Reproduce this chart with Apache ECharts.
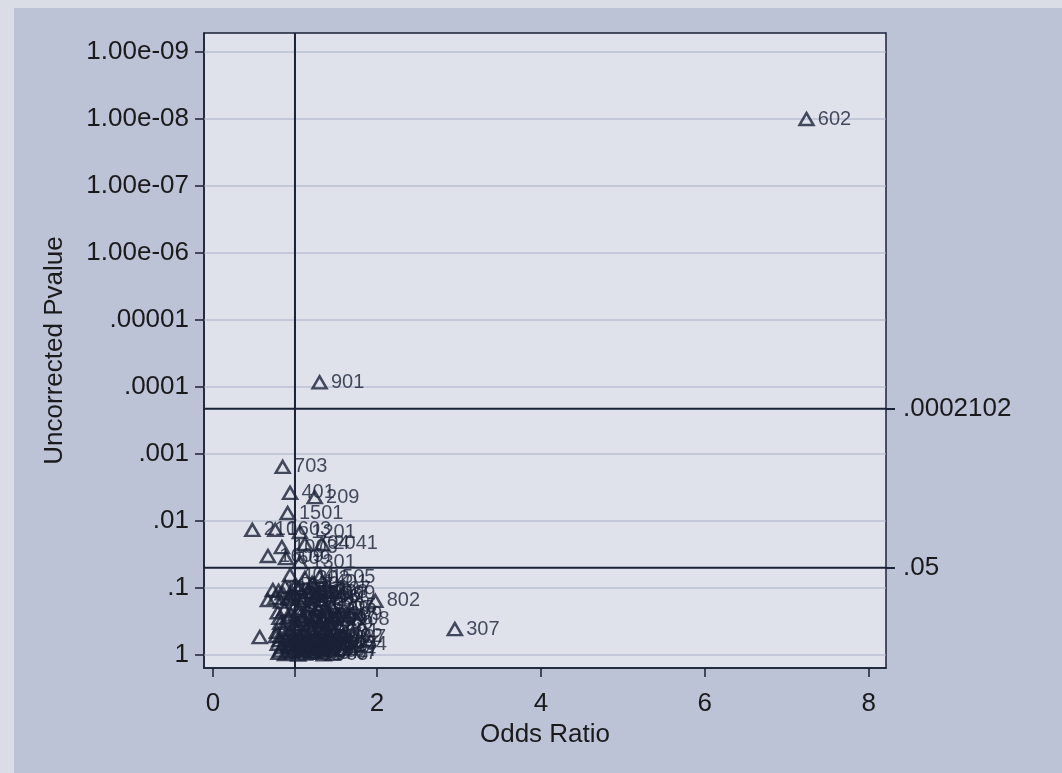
<!DOCTYPE html>
<html>
<head>
<meta charset="utf-8">
<title>Odds ratio vs uncorrected p-value</title>
<script src="https://cdn.jsdelivr.net/npm/echarts@6/dist/echarts.min.js"></script>
<style>
html, body { margin: 0; padding: 0; background: #dadde6; }
#chart { width: 1062px; height: 773px; }
</style>
</head>
<body>
<div id="chart"></div>
<script>
// axis ticks
var xTicks = [0, 2, 4, 6, 8];
var yTickValues = [1e-9, 1e-8, 1e-7, 1e-6, 1e-5, 1e-4, 1e-3, 0.01, 0.1, 1];
var yTickLabels = ['1.00e-09', '1.00e-08', '1.00e-07', '1.00e-06', '.00001', '.0001', '.001', '.01', '.1', '1'];
var refP = [0.0002102, 0.05];
var refPLabels = ['.0002102', '.05'];
var refOR = 1;

// points (odds ratio, p value, id)
var oddsRatio = [
    7.24, 1.30, 0.85, 0.94, 1.24, 0.91, 0.48, 0.76, 1.06, 0.84, 1.12, 1.33, 0.67, 0.89,
    1.06, 0.94, 1.12, 1.30, 1.00, 1.21, 0.73, 0.67, 0.57, 1.98, 2.95, 1.28, 1.33, 1.43,
    0.80, 0.88, 0.97, 1.05, 1.16, 1.26, 1.38,
    0.83, 0.92, 1.01, 1.09, 1.19, 1.31, 1.45,
    0.79, 0.87, 0.95, 1.03, 1.13, 1.22, 1.36, 1.52,
    0.82, 0.90, 0.99, 1.07, 1.17, 1.29, 1.41,
    0.78, 0.86, 0.94, 1.02, 1.11, 1.20, 1.33, 1.48,
    0.81, 0.89, 0.98, 1.06, 1.15, 1.25, 1.37,
    0.84, 0.93, 1.00, 1.08, 1.18, 1.28, 1.42,
    0.80, 0.88, 0.96, 1.04, 1.12, 1.23, 1.35, 1.46,
    0.76, 0.85, 0.93, 1.00, 1.10, 1.21, 1.30,
    0.81, 0.91, 1.00, 1.10, 1.23, 1.34, 1.49,
    0.77, 0.87, 0.96, 1.05, 1.14, 1.24, 1.39,
    0.79, 0.90, 0.99, 1.09, 1.19, 1.32, 1.44,
    0.82, 0.92, 1.01, 1.10, 1.21, 1.31
];
var pValue = [
    1.0e-8, 8.5e-5, 1.56e-3, 3.8e-3, 4.4e-3, 7.6e-3, 0.0136, 0.0136, 0.0146, 0.0245, 0.022, 0.022, 0.0333, 0.0357,
    0.041, 0.064, 0.071, 0.0685, 0.090, 0.084, 0.107, 0.151, 0.54, 0.156, 0.41, 0.20, 0.30, 0.557,
    0.11, 0.095, 0.12, 0.10, 0.115, 0.13, 0.105,
    0.16, 0.145, 0.17, 0.155, 0.18, 0.15, 0.19,
    0.23, 0.21, 0.25, 0.22, 0.24, 0.26, 0.21, 0.25,
    0.33, 0.31, 0.35, 0.30, 0.36, 0.32, 0.34,
    0.45, 0.42, 0.47, 0.44, 0.48, 0.43, 0.46, 0.45,
    0.60, 0.57, 0.62, 0.58, 0.63, 0.59, 0.61,
    0.76, 0.72, 0.79, 0.74, 0.80, 0.75, 0.78,
    0.93, 0.97, 0.91, 0.99, 0.95, 0.92, 0.98, 0.96,
    0.14, 0.12, 0.135, 0.125, 0.14, 0.115, 0.12,
    0.28, 0.27, 0.29, 0.275, 0.28, 0.27, 0.29,
    0.52, 0.53, 0.51, 0.54, 0.52, 0.55, 0.53,
    0.68, 0.70, 0.67, 0.69, 0.71, 0.68, 0.70,
    0.86, 0.88, 0.85, 0.87, 0.89, 0.86
];
var pointIds = [
    '602', '901', '703', '401', '209', '1501', '210', '1603', '1201', '1003', '704', '2041', '1609', '609',
    '1301', '404', '302', '1505', '410', '1401', '1205', '305', '208', '802', '307', '1007', '509', '1087',
    '101', '102', '103', '104', '105', '106', '107',
    '108', '109', '201', '202', '203', '204', '205',
    '206', '207', '301', '303', '304', '306', '308', '309',
    '402', '403', '405', '406', '407', '408', '409',
    '501', '502', '503', '504', '506', '507', '508', '601',
    '603', '604', '605', '606', '607', '608', '701',
    '702', '705', '706', '707', '708', '801', '803',
    '804', '805', '806', '902', '903', '904', '905', '767',
    '909', '1002', '1004', '1005', '1006', '1008', '1009',
    '1102', '1103', '1104', '1105', '1106', '1107', '1108',
    '1202', '1203', '1204', '1206', '1207', '1208', '1302',
    '1303', '1304', '1305', '1306', '1402', '1403', '1404',
    '1405', '1502', '1503', '1504', '1602', '1604'
];

var ink = '#1a2237';
var fontFamily = '"Liberation Sans", Arial, sans-serif';
var xMin = -0.11, xMax = 8.21;
var yMin = Math.pow(10, -9.284);
var yMax = Math.pow(10, 0.194);

function nearestLabel(v, values, labels) {
    var best = 0, bestD = Infinity;
    for (var i = 0; i < values.length; i++) {
        var d = Math.abs(Math.log10(v) - Math.log10(values[i]));
        if (d < bestD) { bestD = d; best = i; }
    }
    return labels[best];
}

function straight(data, color, width, z) {
    return {
        type: 'line',
        data: data,
        symbol: 'none',
        silent: true,
        z: z,
        lineStyle: { color: color, width: width },
        emphasis: { disabled: true }
    };
}

var points = oddsRatio.map(function (x, i) { return [x, pValue[i]]; });

var series = [];
// grid lines at decade ticks
yTickValues.forEach(function (v) {
    series.push(straight([[xMin, v], [xMax, v]], '#a9b0c7', 1, 1));
});
// reference lines
series.push(straight([[refOR, yMin], [refOR, yMax]], ink, 2, 3));
refP.forEach(function (v) {
    series.push(straight([[xMin, v], [xMax, v]], ink, 2, 3));
});
series.push({
    type: 'scatter',
    z: 5,
    data: points,
    symbol: 'triangle',
    symbolSize: [14, 12],
    itemStyle: { color: 'rgba(0,0,0,0)', borderColor: ink, borderWidth: 2.5 },
    label: {
        show: true,
        position: 'right',
        distance: 3,
        fontSize: 20,
        color: ink,
        formatter: function (p) { return pointIds[p.dataIndex]; }
    }
});

var myChart = echarts.init(document.getElementById('chart'));
var option = {
    backgroundColor: '#dadde6',
    animation: false,
    textStyle: { fontFamily: fontFamily },
    graphic: [{
        type: 'rect',
        z: -100,
        silent: true,
        shape: { x: 14, y: 8, width: 1048, height: 765 },
        style: { fill: '#bcc3d7' }
    }],
    grid: {
        left: 204, right: 176, top: 33, bottom: 105,
        show: true,
        backgroundColor: '#dfe2eb',
        borderColor: ink,
        borderWidth: 1.5
    },
    xAxis: {
        type: 'value',
        min: xMin,
        max: xMax,
        name: 'Odds Ratio',
        nameLocation: 'middle',
        nameGap: 54,
        nameTextStyle: { fontSize: 26, color: '#1a1a1a' },
        axisLine: { show: true, onZero: false, lineStyle: { color: ink, width: 1.5 } },
        axisTick: { show: true, customValues: [0, 1, 2, 4, 6, 8], length: 9, lineStyle: { color: ink, width: 1.5 } },
        axisLabel: { customValues: xTicks, fontSize: 26, color: '#1a1a1a', margin: 23 },
        splitLine: { show: false }
    },
    yAxis: [{
        type: 'log',
        logBase: 10,
        inverse: true,
        min: yMin,
        max: yMax,
        name: 'Uncorrected Pvalue',
        nameLocation: 'middle',
        nameGap: 136,
        nameTextStyle: { fontSize: 26, color: '#1a1a1a' },
        axisLine: { show: true, onZero: false, lineStyle: { color: ink, width: 1.5 } },
        axisTick: { show: true, customValues: yTickValues, length: 9, lineStyle: { color: ink, width: 1.5 } },
        axisLabel: {
            customValues: yTickValues,
            fontSize: 26,
            color: '#1a1a1a',
            margin: 15,
            formatter: function (v) { return nearestLabel(v, yTickValues, yTickLabels); }
        },
        splitLine: { show: false }
    }, {
        type: 'log',
        logBase: 10,
        inverse: true,
        min: yMin,
        max: yMax,
        position: 'right',
        axisLine: { show: false, onZero: false },
        axisTick: { show: true, customValues: refP, length: 9, lineStyle: { color: ink, width: 2 } },
        axisLabel: {
            customValues: refP,
            fontSize: 26,
            color: '#1a1a1a',
            margin: 17,
            formatter: function (v) { return nearestLabel(v, refP, refPLabels); }
        },
        splitLine: { show: false }
    }],
    series: series
};

myChart.setOption(option);
</script>
</body>
</html>
